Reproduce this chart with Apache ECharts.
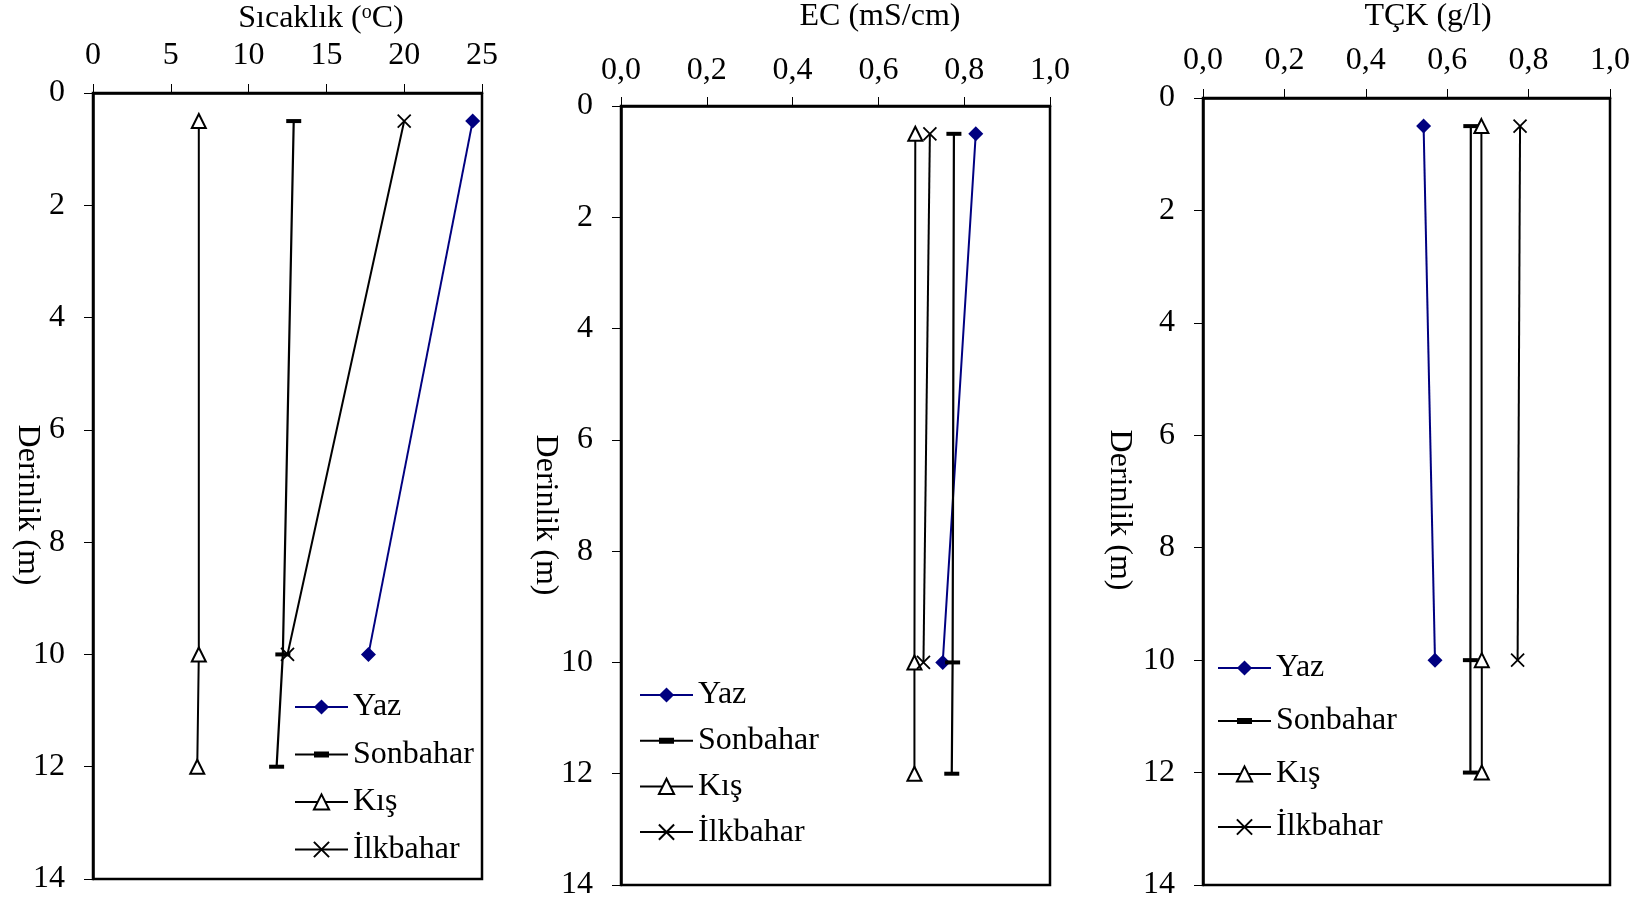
<!DOCTYPE html>
<html><head><meta charset="utf-8">
<script src="https://cdn.jsdelivr.net/npm/echarts@6/dist/echarts.min.js"></script>
<style>html,body{margin:0;padding:0;background:#fff}#c{width:1644px;height:903px}</style>
</head><body><div id="c"></div>
<script>
// ---- data ----
const seriesNames = ['Yaz', 'Sonbahar', 'Kış', 'İlkbahar'];
const depthYaz = [0.5, 10];
const depthSonbahar = [0.5, 10, 12];
const depthKis = [0.5, 10, 12];
const depthIlkbahar = [0.5, 10];

const sicaklikYaz = [24.4, 17.7];
const sicaklikSonbahar = [12.9, 12.2, 11.8];
const sicaklikKis = [6.8, 6.8, 6.7];
const sicaklikIlkbahar = [20.0, 12.5];

const ecYaz = [0.827, 0.750];
const ecSonbahar = [0.776, 0.773, 0.771];
const ecKis = [0.686, 0.684, 0.684];
const ecIlkbahar = [0.720, 0.705];

const tckYaz = [0.542, 0.570];
const tckSonbahar = [0.658, 0.657, 0.657];
const tckKis = [0.684, 0.685, 0.685];
const tckIlkbahar = [0.779, 0.773];

const depthTickLabels = ['0', '2', '4', '6', '8', '10', '12', '14'];
const sicaklikTickLabels = ['0', '5', '10', '15', '20', '25'];
const ecTickLabels = ['0,0', '0,2', '0,4', '0,6', '0,8', '1,0'];
const tckTickLabels = ['0,0', '0,2', '0,4', '0,6', '0,8', '1,0'];

const titles = ['Sıcaklık ({sup|o}C)', 'EC (mS/cm)', 'TÇK (g/l)'];
const yName = 'Derinlik (m)';

// ---- layout / style ----
const FONT = 'Liberation Serif';
const FS = 32;
const grids = [
  {left: 93, top: 93, width: 389, height: 786},
  {left: 621, top: 106, width: 429, height: 779},
  {left: 1203, top: 98, width: 407, height: 787}
];
const xLabelMargin = [21, 19, 21];

function pairs(xs, ys) { return xs.map((x, i) => [x, ys[i]]); }

const styles = {
  'Yaz': {symbol: 'diamond', symbolSize: 15, lineStyle: {color: '#000080', width: 2}, itemStyle: {color: '#000080'}},
  'Sonbahar': {symbol: 'rect', symbolSize: [15, 4], lineStyle: {color: '#000', width: 2.2}, itemStyle: {color: '#000'}},
  'Kış': {symbol: 'triangle', symbolSize: 14, lineStyle: {color: '#000', width: 2}, itemStyle: {color: '#fff', borderColor: '#000', borderWidth: 2}},
  'İlkbahar': {symbol: 'path://M0,0L10,10M0,10L10,0', symbolSize: 13, lineStyle: {color: '#000', width: 2}, itemStyle: {color: '#000', borderColor: '#000', borderWidth: 1.8}}
};
const sonbaharLegendIcon = 'path://M0,7L53,7L53,9L0,9ZM19,5L34,5L34,11L19,11Z';

const datasets = [
  [pairs(sicaklikYaz, depthYaz), pairs(sicaklikSonbahar, depthSonbahar), pairs(sicaklikKis, depthKis), pairs(sicaklikIlkbahar, depthIlkbahar)],
  [pairs(ecYaz, depthYaz), pairs(ecSonbahar, depthSonbahar), pairs(ecKis, depthKis), pairs(ecIlkbahar, depthIlkbahar)],
  [pairs(tckYaz, depthYaz), pairs(tckSonbahar, depthSonbahar), pairs(tckKis, depthKis), pairs(tckIlkbahar, depthIlkbahar)]
];
const xRanges = [
  {min: 0, max: 25, interval: 5, labels: sicaklikTickLabels},
  {min: 0, max: 1, interval: 0.2, labels: ecTickLabels},
  {min: 0, max: 1, interval: 0.2, labels: tckTickLabels}
];

const labelStyle = {fontFamily: FONT, fontSize: FS, color: '#000'};

const option = {
  animation: false,
  backgroundColor: '#fff',
  grid: grids.map(g => Object.assign({show: true, borderColor: '#000', borderWidth: 2.5, containLabel: false, outerBoundsMode: 'none'}, g)),
  xAxis: xRanges.map((r, i) => ({
    type: 'value', gridIndex: i, position: 'top', min: r.min, max: r.max, interval: r.interval,
    axisLine: {show: true, onZero: false, lineStyle: {color: '#000', width: 2.5}},
    axisTick: {show: true, length: 9, lineStyle: {color: '#000', width: 1}},
    splitLine: {show: false},
    axisLabel: Object.assign({margin: xLabelMargin[i], formatter: (v) => r.labels[Math.round((v - r.min) / r.interval)]}, labelStyle)
  })),
  yAxis: grids.map((g, i) => ({
    type: 'value', gridIndex: i, inverse: true, min: 0, max: 14, interval: 2,
    axisLine: {show: true, onZero: false, lineStyle: {color: '#000', width: 2.5}},
    axisTick: {show: true, length: 9, lineStyle: {color: '#000', width: 1}},
    splitLine: {show: false},
    axisLabel: Object.assign({margin: 28, formatter: (v) => depthTickLabels[Math.round(v / 2)]}, labelStyle)
  })),
  legend: [
    {left: 294, top: 691, itemGap: 15.5},
    {left: 639, top: 679, itemGap: 13.7},
    {left: 1217, top: 652, itemGap: 21}
  ].map((l, i) => ({
    orient: 'vertical', align: 'left', left: l.left, top: l.top, itemGap: l.itemGap, padding: 0,
    itemWidth: 53, itemHeight: 19, selectedMode: false,
    data: seriesNames.map(n => n === 'Sonbahar' ? {name: n, icon: sonbaharLegendIcon, itemStyle: {color: '#000'}} : {name: n}),
    textStyle: {fontFamily: FONT, fontSize: FS, color: '#000', lineHeight: 32}
  })),
  series: [],
  graphic: []
};

datasets.forEach((ds, ci) => {
  ds.forEach((d, si) => {
    const n = seriesNames[si];
    const st = styles[n];
    option.series.push({
      type: 'line', name: n, xAxisIndex: ci, yAxisIndex: ci, data: d,
      symbol: st.symbol, symbolSize: st.symbolSize, showSymbol: true,
      lineStyle: st.lineStyle, itemStyle: st.itemStyle, emphasis: {disabled: true}, z: 3
    });
  });
});

const titlePos = [[321, 19], [880, 17], [1428, 17]];
titles.forEach((t, i) => {
  option.graphic.push({
    type: 'text', x: titlePos[i][0], y: titlePos[i][1],
    style: {text: t, fontFamily: FONT, fontSize: FS, fill: '#000', align: 'center', verticalAlign: 'middle',
      rich: {sup: {fontFamily: FONT, fontSize: 20, fill: '#000', verticalAlign: 'top', padding: [0, 0, 11, 0]}}}
  });
});
const yNamePos = [[27, 505], [545, 515], [1119, 510]];
yNamePos.forEach(p => {
  option.graphic.push({
    type: 'text', x: p[0], y: p[1], rotation: -Math.PI / 2,
    style: {text: yName, fontFamily: FONT, fontSize: FS, fill: '#000', align: 'center', verticalAlign: 'middle'}
  });
});

const chart = echarts.init(document.getElementById('c'), null, {renderer: 'canvas'});
chart.setOption(option);
</script>
</body></html>
